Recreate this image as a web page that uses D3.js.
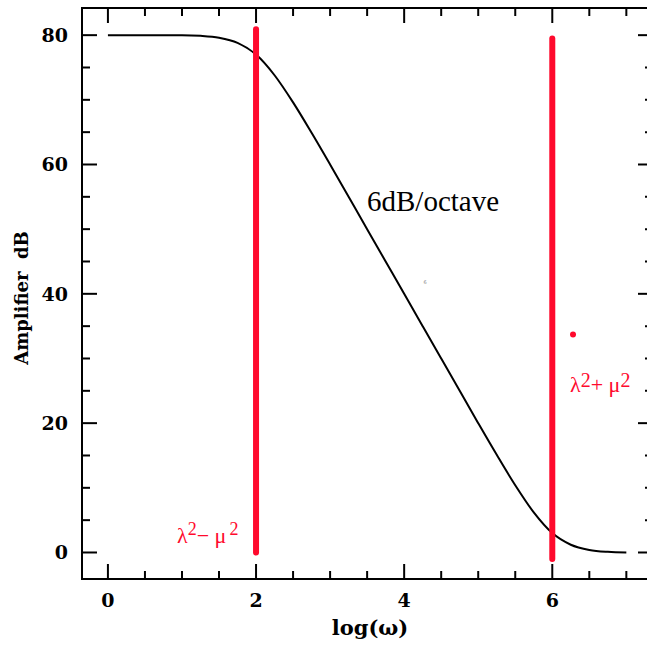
<!DOCTYPE html>
<html lang="en">
<head>
  <script src="https://d3js.org/d3.v7.min.js"></script>
  <style>
    body { margin: 0; background: #fff; }
    svg text.tk { font: bold 19px "DejaVu Serif", serif; fill: #000; }
    svg text.red { font: 22px "Liberation Serif", serif; fill: #ff0a2d; }
  </style>
</head>
<body>
<script>
  // curve: log(omega) vs gain in dB
  var logW = [0, 0.25, 0.5, 0.75, 1.0, 1.25, 1.5, 1.75, 2.0, 2.25, 2.5, 2.75, 3.0, 3.25, 3.5, 3.75,
              4.0, 4.25, 4.5, 4.75, 5.0, 5.25, 5.5, 5.75, 6.0, 6.25, 6.5, 6.75, 7.0];
  var gainDb = [80.0, 80.0, 80.0, 80.0, 80.0, 79.9, 79.6, 78.8, 77.0, 73.8, 69.6, 64.9, 60.0, 55.0, 50.0, 45.0,
                40.0, 35.0, 30.0, 25.0, 20.0, 15.1, 10.4, 6.2, 3.0, 1.2, 0.4, 0.1, 0.0];
  // red vertical markers
  var markX = [2, 6];
  var markLo = [0, -1];
  var markHi = [80.9, 79.5];
  var xTicks = [0, 2, 4, 6];
  var yTicks = [0, 20, 40, 60, 80];

  var W = 647, H = 648;
  var L = 82, R = 653, T = 8, B = 579;
  var x = d3.scaleLinear().domain([-0.35, 7.36]).range([L, R]);
  var y = d3.scaleLinear().domain([-4.1, 84.2]).range([B, T]);

  var svg = d3.select("body").append("svg").attr("width", W).attr("height", H);

  // frame
  svg.append("rect").attr("x", L).attr("y", T).attr("width", R - L).attr("height", B - T)
    .attr("fill", "none").attr("stroke", "#000").attr("stroke-width", 2);

  var minorX = d3.range(0, 7.01, 0.5), minorY = d3.range(0, 81, 5);
  function isMajorX(d) { return Math.abs(d / 2 - Math.round(d / 2)) < 1e-6; }
  function isMajorY(d) { return d % 20 === 0; }

  var g = svg.append("g").attr("stroke", "#000").attr("stroke-width", 2);
  minorX.forEach(function(d) {
    var len = isMajorX(d) ? 15 : 8;
    g.append("line").attr("x1", x(d)).attr("x2", x(d)).attr("y1", B).attr("y2", B - len);
    g.append("line").attr("x1", x(d)).attr("x2", x(d)).attr("y1", T).attr("y2", T + len);
  });
  minorY.forEach(function(d) {
    var len = isMajorY(d) ? 15 : 8;
    g.append("line").attr("y1", y(d)).attr("y2", y(d)).attr("x1", L).attr("x2", L + len);
    g.append("line").attr("y1", y(d)).attr("y2", y(d)).attr("x1", R).attr("x2", R - len);
  });

  svg.selectAll("text.xl").data(xTicks).enter().append("text").attr("class", "tk")
    .attr("x", function(d) { return x(d); }).attr("y", 607).attr("text-anchor", "middle")
    .text(function(d) { return d; });
  svg.selectAll("text.yl").data(yTicks).enter().append("text").attr("class", "tk")
    .attr("x", 68).attr("y", function(d) { return y(d) + 7; }).attr("text-anchor", "end")
    .text(function(d) { return d; });

  svg.append("text").attr("class", "tk").attr("x", 370).attr("y", 635).attr("text-anchor", "middle")
    .style("font-size", "21px").text("log(\u03c9)");
  svg.append("text").attr("class", "tk").attr("transform", "translate(28,298) rotate(-90)")
    .attr("text-anchor", "middle").style("font-size", "18px").attr("xml:space", "preserve")
    .text("Amplifier  dB");

  // curve
  var pts = logW.map(function(d, i) { return [d, gainDb[i]]; });
  svg.append("path").datum(pts)
    .attr("d", d3.line().x(function(d) { return x(d[0]); }).y(function(d) { return y(d[1]); }).curve(d3.curveMonotoneX))
    .attr("fill", "none").attr("stroke", "#000").attr("stroke-width", 2);

  // red markers
  markX.forEach(function(m, i) {
    svg.append("line").attr("x1", x(m)).attr("x2", x(m)).attr("y1", y(markLo[i])).attr("y2", y(markHi[i]))
      .attr("stroke", "#ff0a2d").attr("stroke-width", 6).attr("stroke-linecap", "round");
  });
  svg.append("circle").attr("cx", x(6.28)).attr("cy", y(33.7)).attr("r", 3).attr("fill", "#ff0a2d");

  var t1 = svg.append("text").attr("class", "red").attr("x", 177).attr("y", 543);
  t1.append("tspan").text("\u03bb");
  t1.append("tspan").attr("dy", -8).style("font-size", "18px").text("2");
  t1.append("tspan").attr("dy", 8).text("\u2212 \u03bc");
  t1.append("tspan").attr("dy", -8).attr("dx", 3).style("font-size", "18px").text("2");

  var t2 = svg.append("text").attr("class", "red").attr("x", 570).attr("y", 392);
  t2.append("tspan").text("\u03bb");
  t2.append("tspan").attr("dy", -5).style("font-size", "20px").text("2");
  t2.append("tspan").attr("dy", 5).text("+ \u03bc");
  t2.append("tspan").attr("dy", -5).style("font-size", "20px").text("2");

  svg.append("text").attr("x", 367).attr("y", 211).style("font", "29px 'Liberation Serif', serif")
    .text("6dB/octave");
  svg.append("text").attr("x", 425).attr("y", 284).attr("text-anchor", "middle")
    .style("font", "5px 'DejaVu Sans', sans-serif").attr("fill", "#888").text("6");
</script>
</body>
</html>
